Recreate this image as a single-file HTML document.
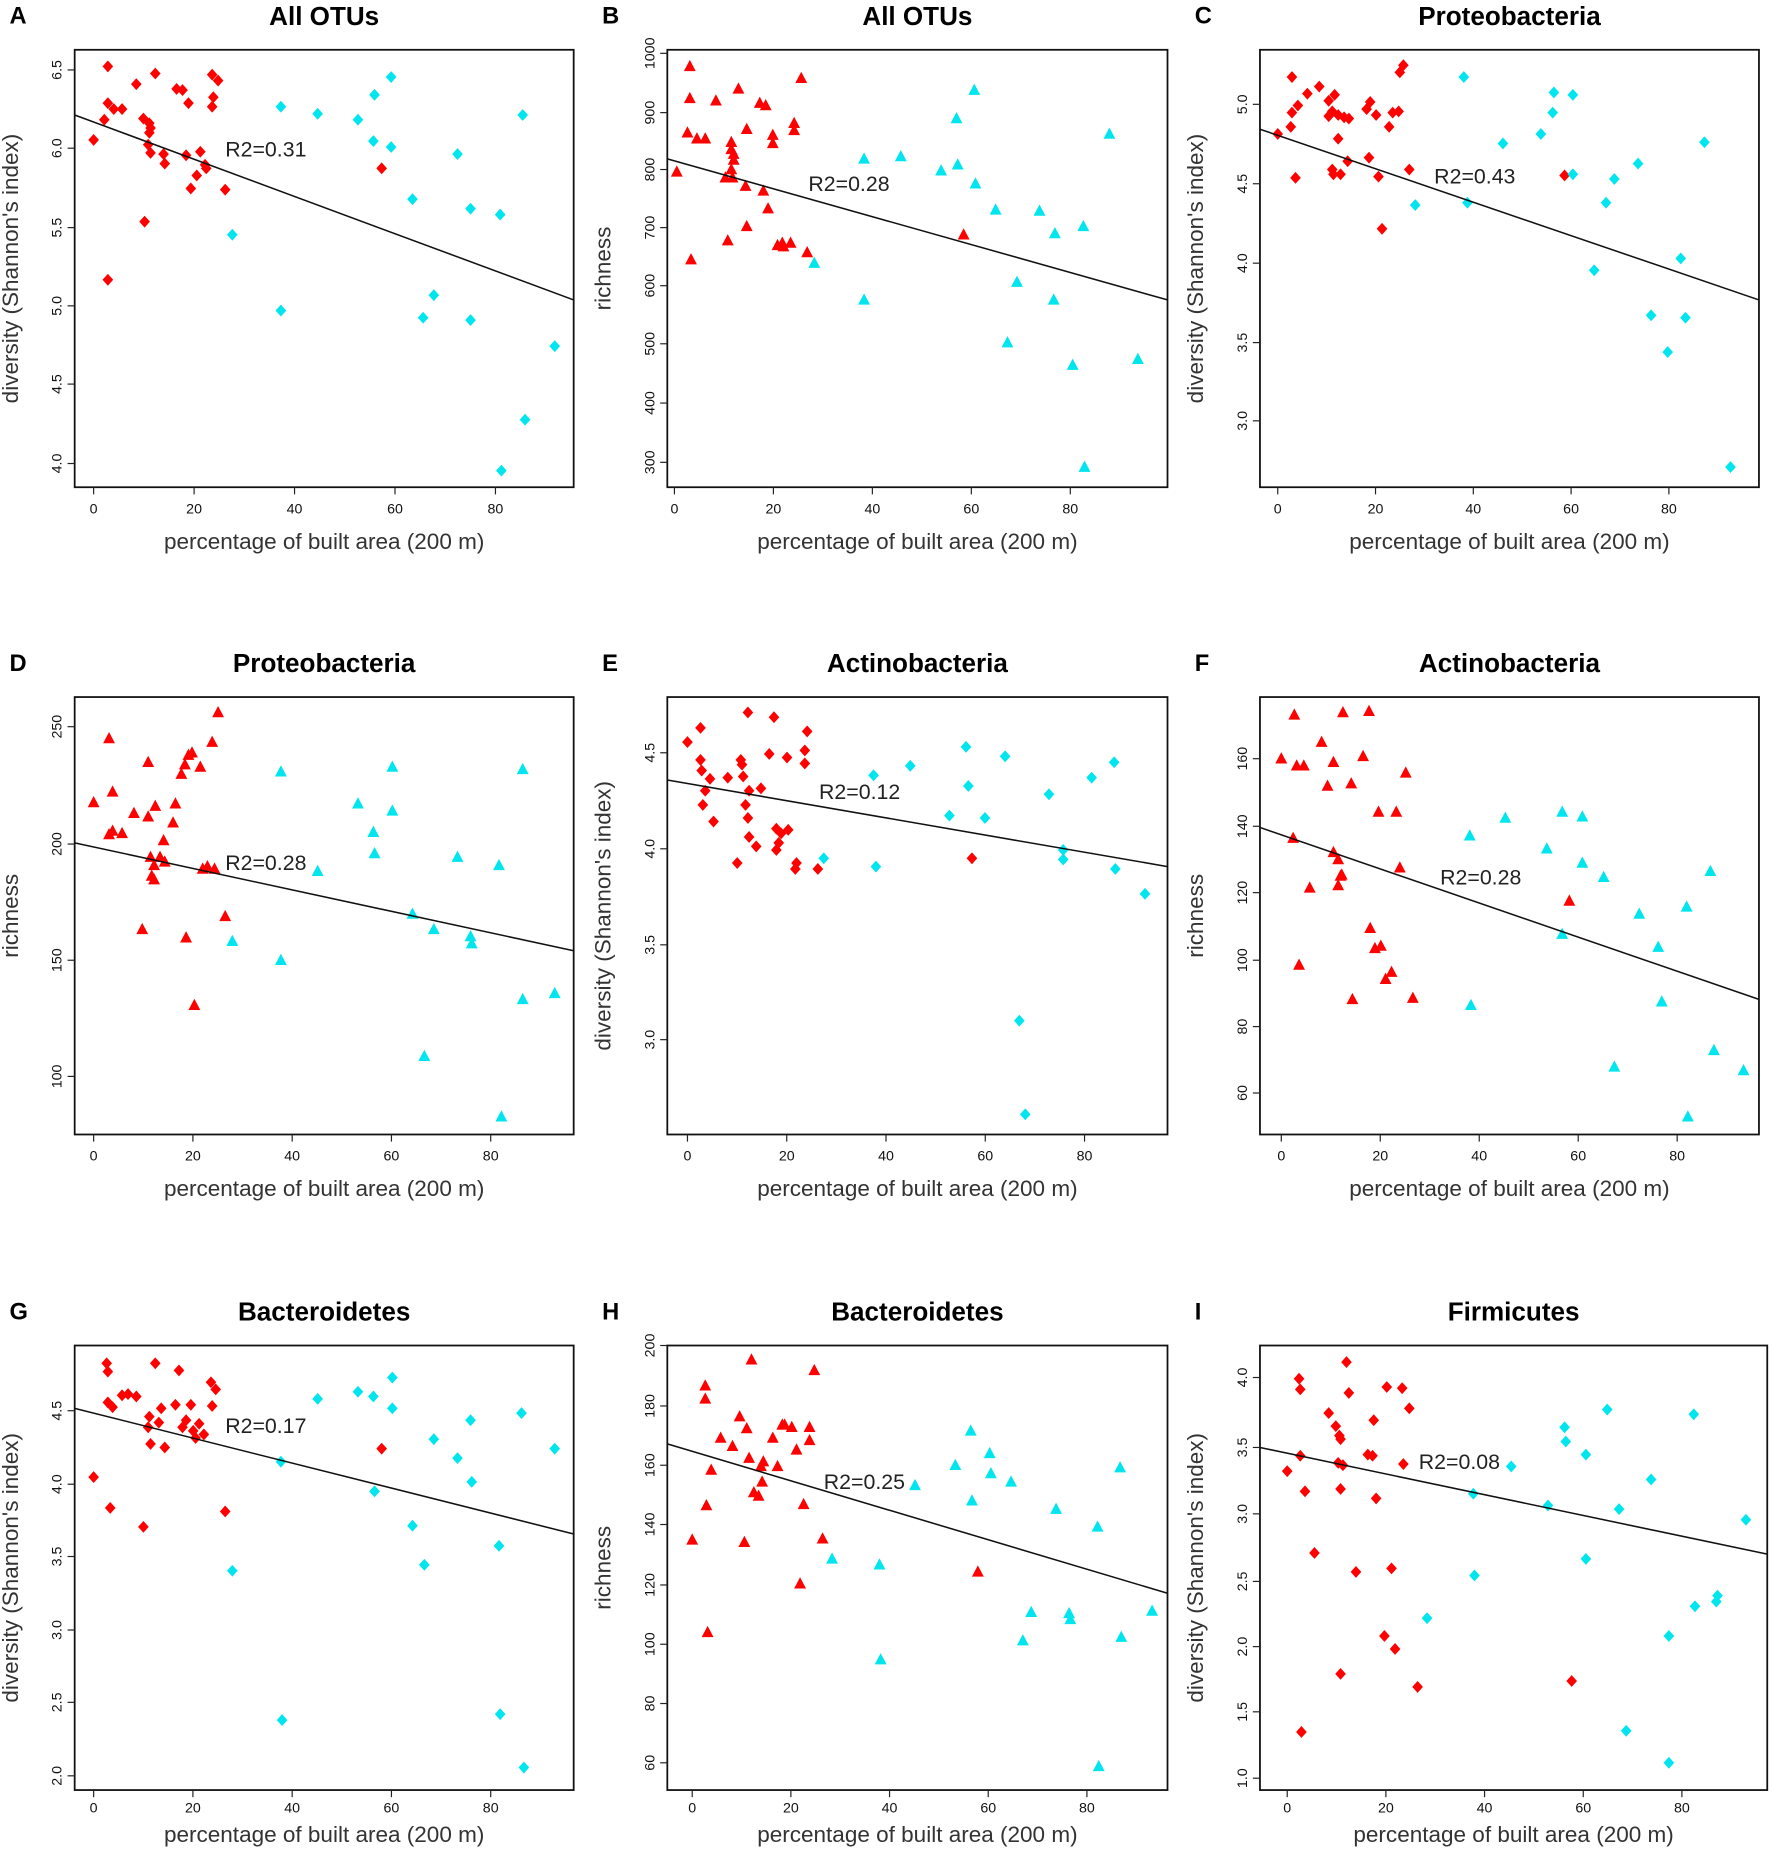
<!DOCTYPE html>
<html><head><meta charset="utf-8"><style>
html,body{margin:0;padding:0;background:#fff}
svg{display:block}
text{font-family:"Liberation Sans",Arial,sans-serif}
</style></head><body>
<svg id="s" width="1772" height="1860" viewBox="0 0 1495 1569" preserveAspectRatio="none" xmlns="http://www.w3.org/2000/svg"></svg>
<script>
const S=document.getElementById('s');let h='';
const P=[
{L:'A',T:'All OTUs',b:[63,42,484,411],x0:79,x80:418,yl:"diversity (Shannon's index)",yt:[['6.5',59],['6.0',125],['5.5',192],['5.0',258],['4.5',324],['4.0',391]],m:'d',
ln:[63,97,484,253],r:['R2=0.31',190,132],
red:[[91,56],[91,87],[88,101],[96,92],[103,92],[79,118],[115,71],[131,62],[121,100],[126,104],[127,108],[126,112],[125,122],[127,129],[139,138],[138,130],[149,75],[154,76],[159,87],[179,63],[180,82],[179,90],[184,68],[169,128],[166,148],[173,139],[174,142],[190,160],[161,159],[122,187],[91,236],[322,142],[157,131]],
cy:[[237,90],[268,96],[302,101],[316,80],[315,119],[330,65],[330,124],[348,168],[386,130],[397,176],[422,181],[441,97],[366,249],[357,268],[397,270],[237,262],[196,198],[468,292],[443,354],[423,397]]},
{L:'B',T:'All OTUs',b:[563,42,985,411],x0:569,x80:903,yl:'richness',yt:[['1000',45],['900',95],['800',143],['700',192],['600',241],['500',290],['400',340],['300',390]],m:'t',
ln:[563,134,985,253],r:['R2=0.28',682,161],
red:[[582,56],[582,83],[580,112],[588,117],[595,117],[571,145],[604,85],[623,75],[617,120],[617,126],[619,130],[619,135],[617,143],[618,150],[629,157],[630,191],[641,87],[646,89],[652,114],[644,161],[648,176],[656,207],[660,205],[661,208],[667,205],[670,104],[670,110],[676,66],[681,213],[614,203],[583,219],[813,198],[652,121],[630,109],[612,150]],
cy:[[729,134],[760,132],[794,144],[807,100],[808,139],[822,76],[823,155],[840,177],[877,178],[890,197],[914,191],[936,113],[858,238],[850,289],[889,253],[729,253],[687,222],[960,303],[905,308],[915,394]]},
{L:'C',T:'Proteobacteria',b:[1063,42,1484,411],x0:1078,x80:1408,yl:"diversity (Shannon's index)",yt:[['5.0',88],['4.5',155],['4.0',222],['3.5',289],['3.0',355]],m:'d',
ln:[1063,109,1484,253],r:['R2=0.43',1210,155],
red:[[1078,113],[1090,65],[1090,95],[1089,107],[1095,89],[1103,79],[1113,73],[1121,85],[1121,98],[1124,94],[1126,80],[1129,97],[1129,117],[1134,99],[1137,136],[1138,100],[1124,143],[1125,147],[1131,147],[1153,92],[1156,86],[1161,97],[1163,149],[1172,107],[1175,95],[1180,94],[1184,55],[1189,143],[1166,193],[1093,150],[1181,61],[1320,148],[1155,133]],
cy:[[1235,65],[1268,121],[1300,113],[1311,78],[1310,95],[1327,80],[1327,147],[1355,171],[1362,151],[1382,138],[1393,266],[1407,297],[1418,218],[1422,268],[1438,120],[1460,394],[1194,173],[1238,171],[1345,228]]},
{L:'D',T:'Proteobacteria',b:[63,588,484,957],x0:79,x80:414,yl:'richness',yt:[['250',613],['200',712],['150',810],['100',908]],m:'t',
ln:[63,711,484,802],r:['R2=0.28',190,734],
red:[[79,677],[92,623],[95,668],[95,701],[92,704],[103,703],[113,686],[125,643],[125,689],[127,723],[131,680],[128,739],[130,730],[135,723],[130,742],[138,709],[139,727],[120,784],[146,694],[148,678],[153,653],[159,637],[156,645],[162,635],[157,791],[164,848],[171,733],[175,731],[181,733],[179,626],[184,601],[190,773],[169,647]],
cy:[[237,651],[268,735],[302,678],[315,702],[316,720],[331,647],[331,684],[348,771],[358,891],[366,784],[386,723],[397,790],[398,796],[421,730],[441,843],[441,649],[237,810],[196,794],[423,942],[468,838]]},
{L:'E',T:'Actinobacteria',b:[563,588,985,957],x0:580,x80:915,yl:"diversity (Shannon's index)",yt:[['4.5',635],['4.0',716],['3.5',797],['3.0',877]],m:'d',
ln:[563,658,985,731],r:['R2=0.12',691,674],
red:[[580,626],[591,614],[591,641],[592,650],[599,657],[595,667],[593,679],[602,693],[614,656],[622,728],[625,641],[626,645],[627,655],[631,601],[632,667],[629,679],[631,690],[632,706],[638,714],[642,665],[649,636],[653,605],[655,699],[657,711],[655,717],[659,703],[664,639],[665,700],[672,728],[671,733],[679,633],[681,617],[679,644],[690,733],[820,724]],
cy:[[737,654],[739,731],[768,646],[801,688],[815,630],[817,663],[831,690],[848,638],[860,861],[865,940],[885,670],[897,717],[897,725],[921,656],[940,643],[941,733],[966,754],[695,724]]},
{L:'F',T:'Actinobacteria',b:[1063,588,1484,957],x0:1081,x80:1415,yl:'richness',yt:[['160',640],['140',697],['120',753],['100',810],['80',866],['60',922]],m:'t',
ln:[1063,698,1484,843],r:['R2=0.28',1215,746],
red:[[1081,640],[1092,603],[1094,646],[1091,707],[1100,646],[1096,814],[1105,749],[1115,626],[1120,663],[1125,643],[1125,719],[1129,725],[1129,747],[1131,739],[1132,738],[1133,601],[1140,661],[1141,843],[1150,638],[1155,600],[1156,783],[1160,800],[1165,798],[1163,685],[1169,826],[1174,820],[1178,685],[1181,732],[1186,652],[1192,842],[1324,760]],
cy:[[1240,705],[1241,848],[1270,690],[1305,716],[1318,685],[1318,788],[1335,689],[1335,728],[1353,740],[1362,900],[1383,771],[1399,799],[1402,845],[1423,765],[1424,942],[1443,735],[1446,886],[1471,903]]},
{L:'G',T:'Bacteroidetes',b:[63,1135,484,1510],x0:79,x80:414,yl:"diversity (Shannon's index)",yt:[['4.5',1190],['4.0',1252],['3.5',1313],['3.0',1375],['2.5',1436],['2.0',1498]],m:'d',
ln:[63,1188,484,1294],r:['R2=0.17',190,1209],
red:[[79,1246],[90,1150],[91,1157],[91,1183],[95,1187],[93,1272],[103,1177],[108,1176],[115,1178],[121,1288],[126,1195],[125,1204],[127,1218],[131,1150],[134,1200],[139,1221],[136,1188],[148,1185],[151,1156],[154,1204],[157,1198],[161,1185],[163,1207],[165,1213],[172,1210],[168,1201],[178,1166],[179,1186],[182,1172],[190,1275],[322,1222]],
cy:[[196,1325],[237,1233],[238,1451],[268,1180],[302,1174],[315,1178],[316,1258],[331,1162],[331,1188],[348,1287],[358,1320],[366,1214],[386,1230],[397,1198],[398,1250],[421,1304],[422,1446],[440,1192],[442,1491],[468,1222]]},
{L:'H',T:'Bacteroidetes',b:[563,1135,985,1510],x0:584,x80:917,yl:'richness',yt:[['200',1135],['180',1186],['160',1236],['140',1286],['120',1337],['100',1387],['80',1437],['60',1487]],m:'t',
ln:[563,1218,985,1344],r:['R2=0.25',695,1256],
red:[[584,1299],[595,1169],[595,1180],[597,1377],[600,1240],[596,1270],[608,1213],[618,1220],[624,1195],[628,1301],[630,1205],[632,1230],[634,1147],[636,1259],[640,1262],[643,1250],[642,1237],[644,1233],[652,1213],[656,1237],[660,1202],[662,1202],[668,1204],[672,1223],[675,1336],[678,1269],[683,1215],[683,1204],[687,1156],[694,1298],[825,1326]],
cy:[[702,1315],[742,1320],[743,1400],[772,1253],[806,1236],[819,1207],[820,1266],[835,1226],[836,1243],[853,1250],[863,1384],[870,1360],[891,1273],[902,1361],[903,1366],[926,1288],[927,1490],[945,1238],[946,1381],[972,1359]]},
{L:'I',T:'Firmicutes',b:[1063,1135,1491,1510],x0:1086,x80:1419,yl:"diversity (Shannon's index)",yt:[['4.0',1162],['3.5',1221],['3.0',1277],['2.5',1334],['2.0',1389],['1.5',1444],['1.0',1500]],m:'d',
ln:[1063,1221,1491,1311],r:['R2=0.08',1197,1239],
red:[[1086,1241],[1096,1163],[1097,1172],[1097,1228],[1098,1461],[1101,1258],[1109,1310],[1121,1192],[1127,1203],[1129,1234],[1130,1211],[1131,1214],[1131,1256],[1131,1412],[1133,1236],[1136,1149],[1138,1175],[1144,1326],[1154,1227],[1158,1228],[1159,1198],[1161,1264],[1168,1380],[1170,1170],[1174,1323],[1177,1391],[1183,1171],[1184,1235],[1189,1188],[1196,1423],[1326,1418]],
cy:[[1204,1365],[1243,1260],[1244,1329],[1275,1237],[1306,1270],[1320,1204],[1321,1216],[1338,1227],[1338,1315],[1356,1189],[1366,1273],[1372,1460],[1393,1248],[1408,1380],[1408,1487],[1429,1193],[1430,1355],[1448,1351],[1449,1346],[1473,1282]]}
];
function mk(p,m,c){const[x,y]=p;
 if(m==='d')return `<polygon points="${x},${y-5} ${x+4.5},${y} ${x},${y+5} ${x-4.5},${y}" fill="${c}"/>`;
 return `<polygon points="${x},${y-5.5} ${x+5},${y+4} ${x-5},${y+4}" fill="${c}"/>`;}
P.forEach((p,i)=>{const[l,t,r,b]=p.b;const cx=(l+r)/2,cyy=(t+b)/2;const row3=i>=6;
 h+=`<text x="${l-55}" y="${t-22}" font-size="20" font-weight="bold">${p.L}</text>`;
 h+=`<text x="${cx}" y="${t-21}" font-size="22" font-weight="bold" text-anchor="middle">${p.T}</text>`;
 h+=`<rect x="${l}" y="${t}" width="${r-l}" height="${b-t}" fill="none" stroke="#111" stroke-width="1.5"/>`;
 const k=(p.x80-p.x0)/80;
 [0,20,40,60,80].forEach(v=>{const x=p.x0+v*k;h+=`<line x1="${x}" y1="${b}" x2="${x}" y2="${b+6}" stroke="#222"/><text x="${x}" y="${b+(row3?19:22)}" font-size="12" text-anchor="middle" fill="#111">${v}</text>`;});
 p.yt.forEach(([s,y])=>{h+=`<line x1="${l-6}" y1="${y}" x2="${l}" y2="${y}" stroke="#222"/><text transform="translate(${l-11},${y}) rotate(-90)" font-size="12" text-anchor="middle" fill="#111">${s}</text>`;});
 h+=`<text x="${cx}" y="${b+(row3?44:52)}" font-size="19" text-anchor="middle" fill="#333">percentage of built area (200 m)</text>`;
 h+=`<text transform="translate(${l-48},${cyy}) rotate(-90)" font-size="19" text-anchor="middle" fill="#333">${p.yl}</text>`;
 p.red.forEach(q=>h+=mk(q,p.m,'#ff0000'));
 p.cy.forEach(q=>h+=mk(q,p.m,'#00e5ee'));
 h+=`<line x1="${p.ln[0]}" y1="${p.ln[1]}" x2="${p.ln[2]}" y2="${p.ln[3]}" stroke="#111" stroke-width="1.3"/>`;
 h+=`<text x="${p.r[1]}" y="${p.r[2]}" font-size="18" fill="#222">${p.r[0]}</text>`;
});
S.innerHTML=h;
</script>
</body></html>
